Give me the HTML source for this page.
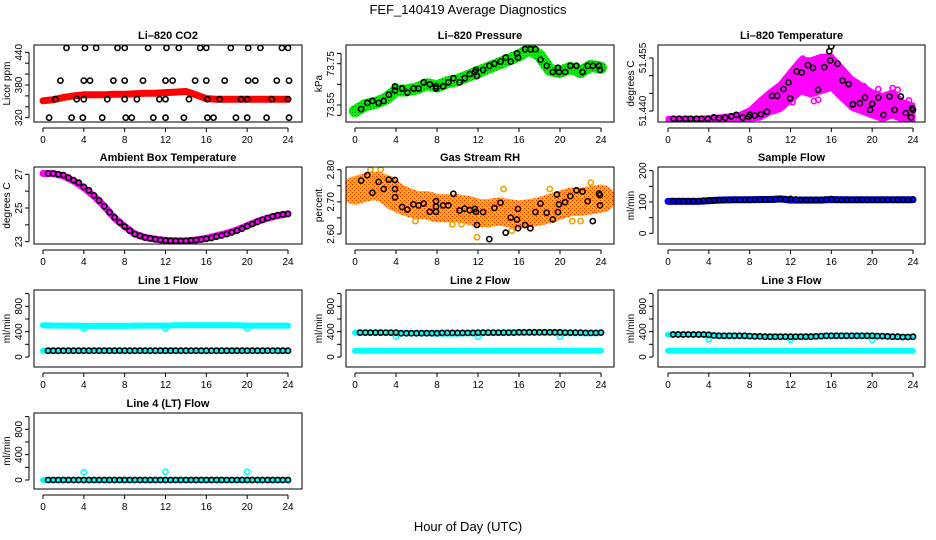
<!DOCTYPE html>
<html><head><meta charset="utf-8"><style>
html,body{margin:0;padding:0;background:#fff;}
svg{display:block;font-family:"Liberation Sans",sans-serif;}
</style></head><body>
<svg id="chart" width="936" height="540" viewBox="0 0 936 540" xmlns="http://www.w3.org/2000/svg">
<defs>
<pattern id="rhPat" width="4" height="4" patternUnits="userSpaceOnUse">
<rect width="4" height="4" fill="#f8b400"/>
<rect x="0" y="0" width="1" height="1" fill="#ff2000"/>
<rect x="2" y="2" width="1" height="1" fill="#ff2000"/>
</pattern>
<pattern id="grnPat" width="3" height="3" patternUnits="userSpaceOnUse">
<rect width="3" height="3" fill="#00ee00"/>
<rect x="1" y="1" width="1" height="1" fill="#008800"/>
</pattern>
</defs>
<rect width="936" height="540" fill="#fff"/>
<text x="468" y="14" font-size="13" text-anchor="middle">FEF_140419  Average Diagnostics</text>
<text x="468" y="531" font-size="13" text-anchor="middle">Hour of Day (UTC)</text>
<g id="panels"></g>
</svg>
<script>
// ---------- data ----------
const halfHours=[0.5,1,1.5,2,2.5,3,3.5,4,4.5,5,5.5,6,6.5,7,7.5,8,8.5,9,9.5,10,10.5,11,11.5,12,12.5,13,13.5,14,14.5,15,15.5,16,16.5,17,17.5,18,18.5,19,19.5,20,20.5,21,21.5,22,22.5,23,23.5,24];
const hours=[0,1,2,3,4,5,6,7,8,9,10,11,12,13,14,15,16,17,18,19,20,21,22,23,24];
const xTicks=[0,4,8,12,16,20,24];

// CO2
const co2BandVals=[351,353,357,360,362,362,362,363,363,364,365,365,366,367,368,362,355,354,354,354,354,354,354,354,354];
const co2BlackHours=[2.3,4.1,5.2,7.3,8.0,10.3,12.1,13.3,15.4,16.0,18.4,20.1,21.3,23.4,24.0,1.7,4.0,4.6,6.9,8.0,9.8,12.0,12.7,14.9,16.0,17.8,20.1,20.8,22.9,24.1,1.2,3.3,4.0,6.3,8.0,9.2,11.4,12.0,14.3,16.1,17.3,19.4,20.0,22.4,24.0,0.6,2.8,3.9,5.8,8.1,8.7,10.8,12.0,13.8,16.1,16.7,18.9,20.0,21.9,24.1];
const co2BlackVals=[448,448,448,448,448,448,448,448,448,448,448,448,448,448,448,388,388,388,388,388,388,388,388,388,388,388,388,388,388,388,354,354,354,354,354,354,354,354,354,354,354,354,354,354,354,320,320,320,320,320,320,320,320,320,320,320,320,320,320,320];

// Pressure
const presBandVals=[73.52,73.55,73.56,73.58,73.62,73.62,73.63,73.65,73.64,73.66,73.67,73.69,73.71,73.73,73.75,73.77,73.79,73.82,73.79,73.72,73.71,73.73,73.71,73.74,73.73];
const presBlackHours=[0.6,1.2,1.7,2.3,2.8,3.3,3.9,3.9,4.6,5.1,5.7,6.2,6.7,7.3,7.9,7.9,8.6,9.1,9.6,10.2,10.7,11.2,11.7,11.8,11.9,12.5,13.1,13.6,14.2,14.7,15.2,15.8,15.9,16.6,17.1,17.6,18.1,18.7,19.3,19.8,19.9,20.5,21.0,21.6,22.2,22.7,23.2,23.8,23.9];
const presBlackVals=[73.53,73.56,73.57,73.56,73.57,73.60,73.64,73.62,73.63,73.61,73.63,73.63,73.66,73.65,73.64,73.63,73.64,73.66,73.68,73.66,73.68,73.70,73.71,73.72,73.69,73.72,73.74,73.75,73.76,73.78,73.76,73.80,73.78,73.82,73.82,73.82,73.77,73.74,73.71,73.73,73.71,73.71,73.74,73.74,73.71,73.74,73.74,73.74,73.72];

// Li-820 temperature
const tempMid=[51.4376,51.4376,51.4376,51.4376,51.4377,51.4378,51.4380,51.4382,51.4390,51.4405,51.4425,51.4440,51.4470,51.4500,51.4495,51.4505,51.4510,51.4480,51.4450,51.4435,51.4420,51.4410,51.4420,51.4400,51.4395];
const tempSpread=[0.0003,0.0003,0.0003,0.0003,0.0004,0.0005,0.0006,0.0008,0.0013,0.0025,0.0030,0.0036,0.0042,0.0046,0.0050,0.0050,0.0046,0.0044,0.0042,0.0038,0.0034,0.0034,0.0034,0.0026,0.0022];
const tempBlackHours=[0.55,1.1,1.7,2.2,2.8,3.3,3.9,4.5,5.0,5.6,6.2,6.7,7.3,7.9,8.0,8.5,9.1,9.7,10.2,10.7,11.3,11.8,11.95,12.6,13.1,13.7,14.2,14.7,15.3,15.8,15.9,16.0,16.6,17.1,17.7,18.1,18.8,19.3,19.8,20.0,20.6,21.1,21.7,22.2,22.8,23.3,23.8,23.9,24.0];
const tempBlackVals=[51.4378,51.4378,51.4378,51.4378,51.4378,51.4378,51.4378,51.4382,51.4380,51.4381,51.4385,51.4389,51.4381,51.4384,51.4390,51.4387,51.4391,51.4398,51.4443,51.4443,51.4462,51.4481,51.4436,51.4512,51.4509,51.4530,51.4522,51.4460,51.4524,51.4569,51.4543,51.4583,51.4534,51.4486,51.4476,51.4419,51.4422,51.4438,51.4403,51.4420,51.4438,51.4389,51.4441,51.4403,51.4441,51.4394,51.4382,51.4408,51.4403];
const tempOutHours=[11.0,11.3,12.2,13.2,14.3,14.7,16.5,17.6,18.5,19.2,20.6,22.0,22.5,23.6];
const tempOutVals=[51.4470,51.4480,51.4425,51.4548,51.4428,51.4432,51.4472,51.4440,51.4480,51.4470,51.4462,51.4465,51.4460,51.4430];

// Ambient box temperature
const ambBandVals=[27.05,27.05,26.9,26.6,26.2,25.7,25.1,24.4,23.9,23.45,23.25,23.15,23.08,23.05,23.05,23.1,23.2,23.35,23.5,23.7,23.95,24.2,24.4,24.55,24.65];
const ambBlackVals=[27.05,27.05,27.0,26.95,26.8,26.65,26.5,26.25,26.05,25.75,25.45,25.1,24.75,24.45,24.15,23.9,23.65,23.45,23.35,23.25,23.2,23.15,23.1,23.07,23.05,23.05,23.04,23.05,23.07,23.1,23.13,23.17,23.22,23.3,23.37,23.45,23.55,23.65,23.78,23.92,24.05,24.18,24.3,24.4,24.5,24.57,24.62,24.65];

// Gas stream RH
const rhBandVals=[2.735,2.745,2.75,2.74,2.715,2.70,2.69,2.69,2.68,2.68,2.68,2.675,2.665,2.665,2.67,2.665,2.66,2.665,2.67,2.68,2.69,2.70,2.70,2.705,2.71];
const rhBlackHours=[0.6,1.2,1.7,2.3,2.8,3.3,3.9,3.9,3.9,4.6,5.1,5.7,6.2,6.7,7.3,7.9,7.9,7.9,8.6,9.1,9.6,10.2,10.7,11.2,11.7,11.8,11.9,12.5,13.1,13.6,14.2,14.7,15.2,15.8,15.9,15.9,16.6,17.1,17.6,18.1,18.7,19.3,19.7,19.8,19.9,20.5,21.0,21.6,22.2,22.7,23.2,23.8,23.9,23.9];
const rhBlackVals=[2.766,2.783,2.728,2.762,2.74,2.769,2.768,2.74,2.714,2.684,2.676,2.692,2.689,2.695,2.669,2.702,2.685,2.669,2.689,2.689,2.725,2.673,2.679,2.674,2.678,2.669,2.628,2.668,2.584,2.681,2.697,2.604,2.651,2.645,2.678,2.618,2.628,2.618,2.668,2.695,2.666,2.645,2.723,2.668,2.692,2.699,2.718,2.736,2.732,2.702,2.640,2.726,2.689,2.721];
const rhOutHours=[0.3,1.5,2.5,5.9,9.5,10.4,11.9,13.0,14.5,15.3,19.0,21.2,23.0,22.0];
const rhOutVals=[2.77,2.80,2.80,2.64,2.63,2.63,2.59,2.63,2.74,2.61,2.74,2.64,2.76,2.64];

// Sample flow
const sampleBandVals=[102,102,102,102,104,106,107,107,107,108,108,110,106,106,106,106,108,107,107,107,107,107,107,107,107];
const sampleBlackVals=[103,103,103,103,103,103,104,105,106,106,106,106,107,107,107,107,107,107,108,108,108,109,109,110,108,107,107,107,107,107,108,109,107,107,107,107,107,107,107,107,107,107,107,107,107,107,107,108];

// Line flows
const line1UpperVals=[500,495,495,495,490,490,490,490,490,495,495,495,495,500,500,500,500,500,500,500,495,495,495,495,495];
const line1LowerVals=[100,100,100,100,100,100,100,100,100,100,100,100,100,100,100,100,100,100,100,100,100,100,100,100,100];
const line1BlackVals=[100,100,100,100,100,100,100,100,100,100,100,100,100,100,100,100,100,100,100,100,100,100,100,100,100,100,100,100,100,100,100,100,100,100,100,100,100,100,100,100,100,100,100,100,100,100,100,100];
const line2UpperVals=[385,385,385,385,375,375,375,375,370,370,370,375,375,380,380,385,385,385,385,385,380,375,375,375,380];
const line2LowerVals=[100,100,100,100,100,100,100,100,100,100,100,100,100,100,100,100,100,100,100,100,100,100,100,100,100];
const line2BlackVals=[385,385,385,385,385,385,385,385,375,375,375,375,375,375,375,375,380,380,380,380,380,380,380,385,385,385,385,385,385,385,385,390,390,390,390,390,390,390,390,390,385,385,385,385,380,380,380,385];
const line3UpperVals=[355,355,355,355,345,335,335,335,330,325,320,320,320,320,325,330,335,335,335,335,335,330,320,315,315];
const line3LowerVals=[100,100,100,100,100,100,100,100,100,100,100,100,100,100,100,100,100,100,100,100,100,100,100,100,100];
const line3BlackVals=[355,355,355,355,355,355,355,350,340,335,335,335,335,335,335,330,325,325,320,320,320,320,320,320,320,320,320,320,325,330,335,335,335,335,335,335,335,335,335,335,330,330,325,320,320,315,315,320];
const line4BandVals=[0,0,0,0,0,0,0,0,0,0,0,0,0,0,0,0,0,0,0,0,0,0,0,0,0];
const line4BlackVals=[0,0,0,0,0,0,0,0,0,0,0,0,0,0,0,0,0,0,0,0,0,0,0,0,0,0,0,0,0,0,0,0,0,0,0,0,0,0,0,0,0,0,0,0,0,0,0,0];
const cyanDipHours=[4,12,20];
const line1DipVals=[450,450,450];
const line2DipVals=[320,320,320];
const line3DipVals=[280,270,270];
const line4DipVals=[120,130,130];

// ---------- drawing ----------
const NS='http://www.w3.org/2000/svg';
const root=document.getElementById('panels');
function mk(tag,attrs,parent){const e=document.createElementNS(NS,tag);for(const k in attrs)e.setAttribute(k,attrs[k]);(parent||root).appendChild(e);return e;}

const colX=[{l:34,r:302,x0:43,x24:288},{l:346,r:614,x0:355,x24:601},{l:658,r:925,x0:668,x24:913}];
const rowY=[{t:45,b:122},{t:167,b:244},{t:290,b:367},{t:413,b:489}];

function makePanel(name,title,col,row,yRef,yTicks,yLabels,yTitle){
  const c=colX[col],r=rowY[row];
  const g=mk('g',{});
  
  
  const xs=h=>c.x0+h*(c.x24-c.x0)/24;
  const ys=v=>yRef[1]+(v-yRef[0])*(yRef[3]-yRef[1])/(yRef[2]-yRef[0]);
  const t=mk('text',{x:(c.l+c.r)/2,y:r.t-6,'font-size':11,'font-weight':'bold','text-anchor':'middle'},g);
  t.textContent=title;
  
  
  const plot=mk('g',{},g);
  
  
  const ax=mk('g',{stroke:'#000','stroke-width':1},g);
  
  
  const ay=r.b+6;
  mk('line',{x1:xs(0),x2:xs(24),y1:ay,y2:ay},ax);
  xTicks.forEach(v=>{
    mk('line',{x1:xs(v),x2:xs(v),y1:ay,y2:ay+4},ax);
    const tl=mk('text',{x:xs(v),y:r.b+21,'font-size':10,'text-anchor':'middle',stroke:'none'},ax);
    tl.textContent=v;
    
    
  });
  const yx=c.l-5;
  const yaxis=mk('g',{stroke:'#000','stroke-width':1},g);
  
  
  mk('line',{x1:yx,x2:yx,y1:ys(yTicks[0]),y2:ys(yTicks[yTicks.length-1])},yaxis);
  yTicks.forEach(v=>mk('line',{x1:yx-4,x2:yx,y1:ys(v),y2:ys(v)},yaxis));
  yLabels.forEach(v=>{
    const yy=ys(v);
    const tl=mk('text',{x:0,y:0,'font-size':10,'text-anchor':'middle',stroke:'none',transform:`translate(${c.l-12},${yy}) rotate(-90)`},yaxis);
    tl.textContent=v;
    
    
  });
  const yt=mk('text',{x:0,y:0,'font-size':10,'text-anchor':'middle',transform:`translate(${c.l-24},${(r.t+r.b)/2}) rotate(-90)`},g);
  yt.textContent=yTitle;
  
  
  const cid='clip-'+name;
  const cp=mk('clipPath',{id:cid},g);
  mk('rect',{x:c.l,y:r.t,width:c.r-c.l,height:r.b-r.t},cp);
  plot.setAttribute('clip-path',`url(#${cid})`);
  const box=mk('rect',{x:c.l,y:r.t,width:c.r-c.l,height:r.b-r.t,fill:'none',stroke:'#000','stroke-width':1},g);
  
  
  return {plot,xs,ys};
}
function band(p,hs,vals,color,width,nm){
  const pts=hs.map((h,i)=>p.xs(h).toFixed(1)+','+p.ys(vals[i]).toFixed(1)).join(' ');
  const e=mk('polyline',{points:pts,fill:'none',stroke:color,'stroke-width':width,'stroke-linejoin':'round','stroke-linecap':'round'},p.plot);
  
  
}
function area(p,hs,mid,spread,color,nm){
  const top=hs.map((h,i)=>p.xs(h).toFixed(1)+','+p.ys(mid[i]+spread[i]).toFixed(1));
  const bot=hs.map((h,i)=>p.xs(h).toFixed(1)+','+p.ys(mid[i]-spread[i]).toFixed(1)).reverse();
  const e=mk('polygon',{points:top.concat(bot).join(' '),fill:color,stroke:color,'stroke-width':5,'stroke-linejoin':'round'},p.plot);
  
  
}
function pts(p,hs,vals,color,nm,r){
  const g=mk('g',{fill:'none',stroke:color,'stroke-width':1.6},p.plot);
  
  
  hs.forEach((h,i)=>{
    const c=mk('circle',{cx:p.xs(h).toFixed(1),cy:p.ys(vals[i]).toFixed(1),r:r||2.6},g);
    
    
  });
}

let p=makePanel('co2','Li\u2013820 CO2',0,0,[320,117.7,440,52.3],[320,340,360,380,400,420,440],[320,380,440],'Licor ppm');
band(p,hours,co2BandVals,'#ff0000',7,'co2-red-series');
pts(p,co2BlackHours,co2BlackVals,'#000','co2-black-series');

p=makePanel('pressure','Li\u2013820 Pressure',1,0,[73.55,105,73.75,63.7],[73.50,73.55,73.65,73.75,73.80],[73.55,73.75],'kPa');
band(p,hours,presBandVals,'url(#grnPat)',12,'pressure-green-series');
pts(p,presBlackHours,presBlackVals,'#000','pressure-black-series');

p=makePanel('li820-temp','Li\u2013820 Temperature',2,0,[51.440,111,51.455,58],[51.440,51.445,51.450,51.455],['51.440','51.455'],'degrees C');
area(p,hours,tempMid,tempSpread,'#ff00ff','temp-magenta-series');
pts(p,tempOutHours,tempOutVals,'#ff00ff','temp-magenta-outliers');
pts(p,tempBlackHours,tempBlackVals,'#000','temp-black-series');

p=makePanel('ambient','Ambient Box Temperature',0,1,[23,241.7,27,174.3],[23,24,25,26,27],[23,25,27],'degrees C');
band(p,hours,ambBandVals,'#ff00ff',7,'ambient-magenta-series');
pts(p,halfHours,ambBlackVals,'#000','ambient-black-series');

p=makePanel('rh','Gas Stream RH',1,1,[2.6,234,2.8,169.7],[2.6,2.65,2.7,2.75,2.8],['2.60','2.70','2.80'],'percent');
band(p,hours,rhBandVals,'url(#rhPat)',28,'rh-orange-series');
pts(p,rhOutHours,rhOutVals,'#f0a000','rh-orange-outliers');
pts(p,rhBlackHours,rhBlackVals,'#000','rh-black-series');

p=makePanel('sample-flow','Sample Flow',2,1,[0,233.3,200,170.7],[0,50,100,150,200],[0,100,200],'ml/min');
band(p,hours,sampleBandVals,'#0000ff',7,'sample-blue-series');
pts(p,halfHours,sampleBlackVals,'#000','sample-black-series');

const flowTicks=[0,200,400,600,800,1000], flowLabels=[0,400,800];
function flow(name,title,col,row,zeroY,upper,lower,black,dips){
  const q=makePanel(name,title,col,row,[0,zeroY,800,zeroY-50.7],flowTicks,flowLabels,'ml/min');
  if(upper) band(q,hours,upper,'#00ffff',6,name+'-cyan-upper');
  band(q,hours,lower,'#00ffff',6,name+'-cyan-lower');
  pts(q,cyanDipHours,dips,'#00ffff',name+'-cyan-dips');
  pts(q,halfHours,black,'#000',name+'-black-series');
}
flow('line1','Line 1 Flow',0,2,357,line1UpperVals,line1LowerVals,line1BlackVals,line1DipVals);
flow('line2','Line 2 Flow',1,2,357,line2UpperVals,line2LowerVals,line2BlackVals,line2DipVals);
flow('line3','Line 3 Flow',2,2,357,line3UpperVals,line3LowerVals,line3BlackVals,line3DipVals);
flow('line4','Line 4 (LT) Flow',0,3,480,null,line4BandVals,line4BlackVals,line4DipVals);
</script>
</body></html>
